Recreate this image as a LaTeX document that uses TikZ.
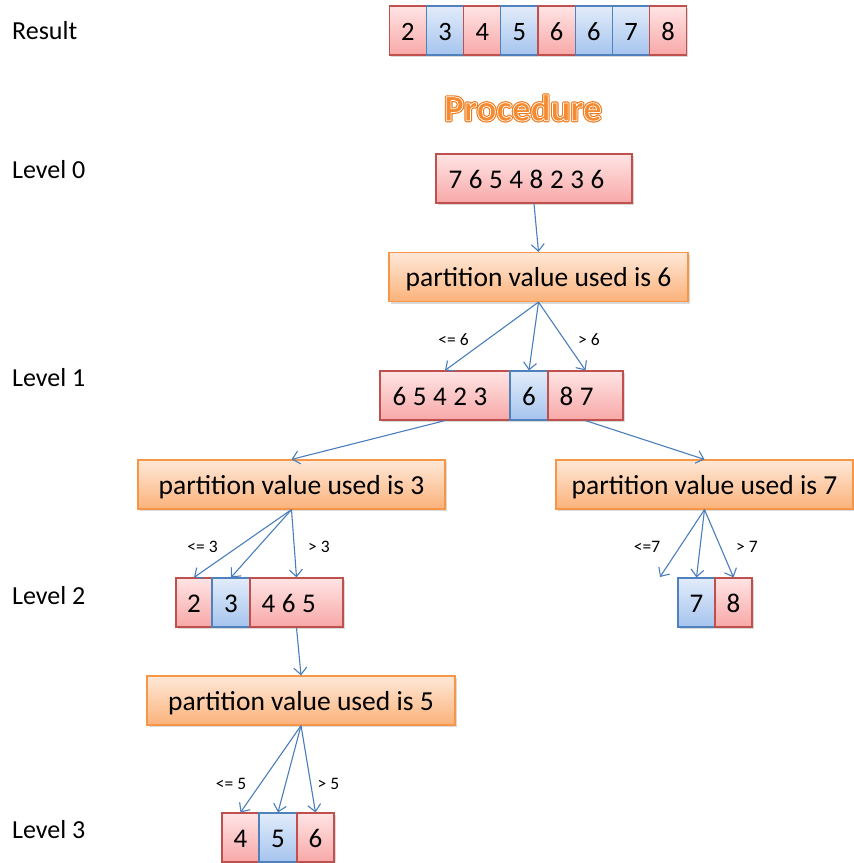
\documentclass[tikz,border=0pt]{standalone}
\usepackage{fontspec}
\setmainfont{Carlito}
\usetikzlibrary{arrows.meta,shadows}
\definecolor{redline}{HTML}{C0504D}
\definecolor{redtop}{HTML}{FFE4E4}
\definecolor{redbot}{HTML}{F8A8A8}
\definecolor{blueline}{HTML}{4F81BD}
\definecolor{bluetop}{HTML}{E2ECFA}
\definecolor{bluebot}{HTML}{A6C4EE}
\definecolor{orline}{HTML}{F79646}
\definecolor{ortop}{HTML}{FEE8D8}
\definecolor{orbot}{HTML}{FBB27A}
\definecolor{arr}{HTML}{4A7EBB}
\definecolor{procfill}{HTML}{F58A30}
\definecolor{procedge}{HTML}{F07A1A}
\tikzset{
  shd/.style={drop shadow={shadow xshift=1.5pt,shadow yshift=-2pt,opacity=0.25,fill=black!60}},
  cellbase/.style={shd,line width=1.2pt,minimum height=49pt,inner sep=0pt,
    text height=20pt,text depth=0pt,font=\fontsize{27}{30}\selectfont},
  redcell/.style={cellbase,draw=redline,top color=redtop,bottom color=redbot},
  bluecell/.style={cellbase,draw=blueline,top color=bluetop,bottom color=bluebot},
  rescell/.style={minimum width=37.18pt,font=\fontsize{26.5}{30}\selectfont},
  celltext/.style={anchor=west,inner sep=0pt,text height=20pt,text depth=0pt,
    font={\fontsize{27}{30}\selectfont\spaceskip=6.6pt\relax}},
  partbox/.style={shd,line width=1.2pt,draw=orline,top color=ortop,bottom color=orbot,
    minimum height=49pt,inner sep=0pt,text height=19.6pt,text depth=0pt,
    font=\fontsize{27.5}{30}\selectfont},
  lvl/.style={anchor=west,inner sep=0pt,font=\fontsize{26}{30}\selectfont},
  small/.style={inner sep=0pt,font=\fontsize{17.5}{20}\selectfont},
  conn/.style={draw=arr,line width=1.1pt,-{Straight Barb[length=7pt,width=13pt,line width=1.1pt]}}
}
\begin{document}
\begin{tikzpicture}[x=1pt,y=-1pt]
\useasboundingbox (0,0) rectangle (854,863);

% level labels
\node[lvl] (tres) at (12,31) {Result};
\node[lvl] (tl0) at (12,170) {Level 0};
\node[lvl] (tl1) at (12,378) {Level 1};
\node[lvl] (tl2) at (12,596) {Level 2};
\node[lvl] (tl3) at (12,830) {Level 3};

% result row
\node[redcell,rescell]  (r1) at (407.9,30.5) {2};
\node[bluecell,rescell] (r2) at (445.1,30.5) {3};
\node[redcell,rescell]  (r3) at (482.3,30.5) {4};
\node[bluecell,rescell] (r4) at (519.4,30.5) {5};
\node[redcell,rescell]  (r5) at (556.6,30.5) {6};
\node[bluecell,rescell] (r6) at (593.8,30.5) {6};
\node[bluecell,rescell] (r7) at (631.0,30.5) {7};
\node[redcell,rescell]  (r8) at (668.2,30.5) {8};

% Procedure title
\node[inner sep=0pt,font=\fontsize{37}{40}\selectfont\bfseries] (proc) at (523,108)
  {\color{procedge}\special{pdf:literal 2 Tr 3 w 1 j}Procedure\special{pdf:literal 0 Tr}};
\node[inner sep=0pt,font=\fontsize{37}{40}\selectfont\bfseries] (procb) at (proc)
  {\color{procfill}\special{pdf:literal 2 Tr 1 1 1 RG 0.7 w 1 j}Procedure\special{pdf:literal 0 Tr}};

% level 0
\node[redcell,minimum width=196pt] (l0) at (534,178.5) {};
\node[celltext] (l0t) at ([xshift=13pt]l0.west) {7 6 5 4 8 2 3 6};

% partition 6
\node[partbox,minimum width=299pt] (p6) at (538.5,277) {partition value used is 6};

% level 1
\node[redcell,minimum width=130pt] (l1a) at (445,395.5) {};
\node[celltext] (l1at) at ([xshift=13pt]l1a.west) {6 5 4 2 3};
\node[bluecell,minimum width=38pt] (l1b) at (529,395.5) {6};
\node[redcell,minimum width=75pt] (l1c) at (585.5,395.5) {};
\node[celltext] (l1ct) at ([xshift=12pt]l1c.west) {8 7};

% partitions 3 and 7
\node[partbox,minimum width=307pt] (p3) at (291.5,484.5) {partition value used is 3};
\node[partbox,minimum width=297pt] (p7) at (704.5,484.5) {partition value used is 7};

% level 2
\node[redcell,minimum width=36pt] (l2a) at (194,602.5) {2};
\node[bluecell,minimum width=38pt] (l2b) at (231,602.5) {3};
\node[redcell,minimum width=93pt] (l2c) at (296.5,602.5) {};
\node[celltext] (l2ct) at ([xshift=12pt]l2c.west) {4 6 5};
\node[bluecell,minimum width=37pt] (l2d) at (696.5,602.5) {7};
\node[redcell,minimum width=37pt] (l2e) at (733.5,602.5) {8};
\coordinate (free7) at (660,577);

% partition 5
\node[partbox,minimum width=308pt] (p5) at (301,700.5) {partition value used is 5};

% level 3
\node[redcell,minimum width=37pt] (l3a) at (240.5,837.5) {4};
\node[bluecell,minimum width=38pt] (l3b) at (278,837.5) {5};
\node[redcell,minimum width=37pt] (l3c) at (315.5,837.5) {6};

% connectors
\draw[conn] (l0.south) -- (p6.north);
\draw[conn] (p6.south) -- (l1a.north);
\draw[conn] (p6.south) -- (l1b.north);
\draw[conn] (p6.south) -- (l1c.north);
\draw[conn] (l1a.south) -- (p3.north);
\draw[conn] (l1c.south) -- (p7.north);
\draw[conn] (p3.south) -- (l2a.north);
\draw[conn] (p3.south) -- (l2b.north);
\draw[conn] (p3.south) -- (l2c.north);
\draw[conn] (p7.south) -- (free7);
\draw[conn] (p7.south) -- (l2d.north);
\draw[conn] (p7.south) -- (l2e.north);
\draw[conn] (l2c.south) -- (p5.north);
\draw[conn] (p5.south) -- (l3a.north);
\draw[conn] (p5.south) -- (l3b.north);
\draw[conn] (p5.south) -- (l3c.north);

% small labels
\node[small] (le6) at (453.5,340) {<= 6};
\node[small] (gt6) at (589,340) {> 6};
\node[small] (le3) at (202.5,547) {<= 3};
\node[small] (gt3) at (319,547) {> 3};
\node[small] (le7) at (647,547) {<=7};
\node[small] (gt7) at (747,547) {> 7};
\node[small] (le5) at (231,784) {<= 5};
\node[small] (gt5) at (328.5,784) {> 5};
\end{tikzpicture}
\end{document}
